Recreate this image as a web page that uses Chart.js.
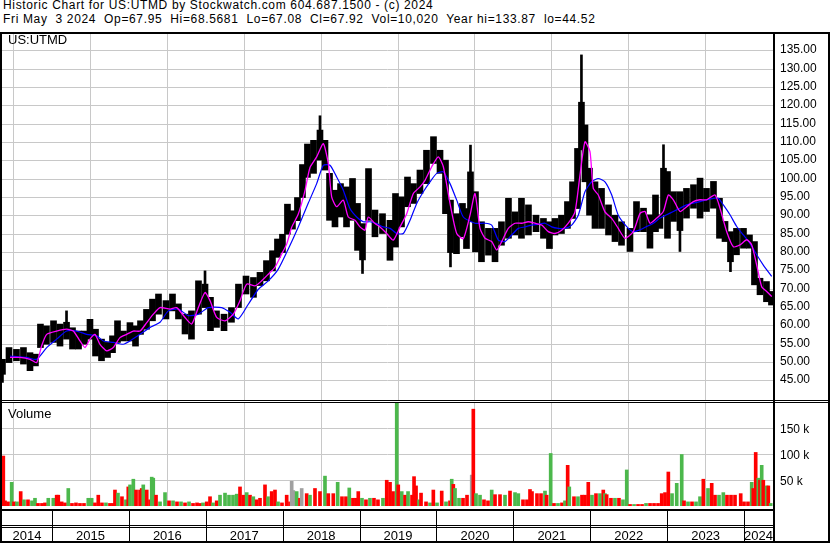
<!DOCTYPE html>
<html lang="en">
<head>
<meta charset="UTF-8">
<title>Historic Chart for US:UTMD</title>
<script src="https://cdn.jsdelivr.net/npm/chart.js"></script>
<style>
  body { margin: 0; background: #fff; font-family: "Liberation Sans", Arial, sans-serif; }
  #wrap { position: relative; width: 830px; height: 543px; overflow: hidden; }
  .hdr { position: absolute; left: 3px; font-size: 12px; letter-spacing: 0.65px; white-space: pre; line-height: 14px; color: #000; }
  .ln { position: absolute; background: #000; z-index: 5; }
  .lbl { position: absolute; left: 8px; font-size: 13px; line-height: 15px; white-space: pre; z-index: 6; }
  canvas { position: absolute; left: 2px; }
</style>
</head>
<body>
<div id="wrap">
  <div class="hdr" style="top:-2px">Historic Chart for US:UTMD by Stockwatch.com 604.687.1500 - (c) 2024</div>
  <div class="hdr" style="top:12px">Fri May  3 2024  Op=67.95  Hi=68.5681  Lo=67.08  Cl=67.92  Vol=10,020  Year hi=133.87  lo=44.52</div>

  <canvas id="price" width="828" height="366" style="top:34px"></canvas>
  <canvas id="volume" width="828" height="140" style="top:403px"></canvas>

  <div class="lbl" style="top:32px">US:UTMD</div>
  <div class="lbl" style="top:406px">Volume</div>

  <!-- frame -->
  <div class="ln" style="left:0;top:32px;width:830px;height:2px"></div>
  <div class="ln" style="left:0;top:32px;width:2px;height:511px"></div>
  <div class="ln" style="left:773px;top:32px;width:2px;height:511px"></div>
  <div class="ln" style="left:828px;top:32px;width:2px;height:511px"></div>
  <div class="ln" style="left:0;top:400px;width:830px;height:1px"></div>
  <div class="ln" style="left:0;top:402px;width:830px;height:1px"></div>
  <div class="ln" style="left:0;top:509px;width:775px;height:2px"></div>
  <div class="ln" style="left:0;top:525px;width:775px;height:1px"></div>
  <div class="ln" style="left:0;top:527px;width:775px;height:1px"></div>
  <div class="ln" style="left:0;top:541px;width:830px;height:2px"></div>
</div>

<script>
// x axis is in decimal years
const xMin = 2014.350, xMax = 2024.376;
const yearTicks = [2015, 2016, 2017, 2018, 2019, 2020, 2021, 2022, 2023, 2024];
const yearLabels = [2014, 2015, 2016, 2017, 2018, 2019, 2020, 2021, 2022, 2023, 2024];
const priceTicks = [45, 50, 55, 60, 65, 70, 75, 80, 85, 90, 95, 100, 105, 110, 115, 120, 125, 130, 135];
const volTicks = [50000, 100000, 150000];

// price range per period (low / high)
const barDates = [2014.356, 2014.441, 2014.538, 2014.629, 2014.714, 2014.785, 2014.850, 2014.928, 2015.020, 2015.104,
  2015.189, 2015.267, 2015.345, 2015.423, 2015.494, 2015.566, 2015.644, 2015.722, 2015.787, 2015.852,
  2015.930, 2016.014, 2016.086, 2016.151, 2016.229, 2016.307, 2016.385, 2016.482, 2016.567, 2016.645,
  2016.730, 2016.814, 2016.905, 2016.990, 2017.061, 2017.139, 2017.237, 2017.334, 2017.425, 2017.523,
  2017.620, 2017.705, 2017.789, 2017.867, 2017.932, 2017.997, 2018.062, 2018.127, 2018.192, 2018.257,
  2018.322, 2018.401, 2018.485, 2018.550, 2018.609, 2018.680, 2018.752, 2018.830, 2018.908, 2018.973,
  2019.038, 2019.116, 2019.200, 2019.298, 2019.395, 2019.467, 2019.545, 2019.623, 2019.701, 2019.785,
  2019.870, 2019.961, 2020.046, 2020.117, 2020.182, 2020.260, 2020.338, 2020.390, 2020.442, 2020.507,
  2020.585, 2020.676, 2020.761, 2020.845, 2020.936, 2021.021, 2021.105, 2021.196, 2021.294, 2021.391,
  2021.469, 2021.541, 2021.625, 2021.703, 2021.769, 2021.834, 2021.885, 2021.931, 2021.990, 2022.061,
  2022.146, 2022.237, 2022.321, 2022.406, 2022.516, 2022.601, 2022.692, 2022.776, 2022.848, 2022.906,
  2022.952, 2023.004, 2023.082, 2023.166, 2023.251, 2023.342, 2023.427, 2023.511, 2023.602, 2023.680,
  2023.752, 2023.823, 2023.901, 2023.992, 2024.070, 2024.135, 2024.207, 2024.291, 2024.356];
const barLow = [46.8, 50.0, 50.5, 49.6, 47.8, 49.1, 54.1, 55.0, 55.5, 54.5,
  56.4, 53.7, 53.7, 55.0, 56.4, 51.8, 50.5, 51.4, 52.7, 55.5,
  55.9, 55.9, 54.5, 57.7, 59.1, 61.4, 63.2, 61.9, 64.1, 61.9,
  57.8, 56.4, 63.2, 65.0, 58.7, 59.6, 58.7, 61.0, 65.0, 68.7,
  67.8, 71.0, 72.3, 75.0, 78.7, 80.0, 85.0, 86.4, 88.7, 95.0,
  100.5, 101.6, 105.2, 102.5, 88.8, 87.0, 89.7, 87.0, 88.8, 80.6,
  78.0, 88.8, 84.3, 85.2, 77.9, 81.5, 87.0, 92.5, 93.4, 96.1,
  98.8, 104.3, 101.6, 90.6, 80.0, 79.7, 84.3, 81.1, 88.4, 80.2,
  77.5, 79.3, 77.5, 82.0, 83.9, 84.8, 83.9, 84.8, 85.7, 83.9,
  81.1, 84.8, 85.2, 86.6, 89.3, 92.0, 108.0, 99.3, 90.2, 86.6,
  86.6, 84.8, 83.0, 82.0, 80.3, 85.7, 85.7, 81.2, 85.7, 86.6,
  90.3, 83.9, 88.5, 86.0, 89.4, 92.1, 89.4, 91.2, 92.1, 83.9,
  83.0, 77.5, 79.4, 81.2, 81.2, 71.2, 68.5, 66.6, 65.7];
const barHigh = [50.9, 54.1, 53.6, 54.1, 52.7, 52.3, 60.5, 60.0, 61.4, 60.5,
  61.0, 59.5, 58.6, 58.6, 61.8, 59.1, 56.4, 55.5, 57.3, 61.4,
  58.6, 60.9, 60.0, 61.4, 64.5, 67.3, 68.7, 66.9, 68.7, 66.0,
  63.2, 64.1, 72.3, 71.4, 67.8, 64.1, 63.2, 65.0, 71.4, 73.6,
  73.2, 74.6, 77.8, 80.5, 83.7, 85.0, 93.2, 91.4, 95.0, 104.0,
  109.6, 110.6, 113.4, 110.6, 101.6, 97.0, 98.8, 97.9, 100.2, 93.4,
  87.9, 102.9, 91.6, 90.6, 88.8, 96.1, 95.2, 100.6, 98.8, 102.5,
  107.9, 111.6, 107.9, 105.2, 94.3, 90.6, 93.4, 92.0, 102.0, 96.6,
  88.4, 86.6, 86.6, 88.4, 94.8, 91.1, 94.8, 93.0, 90.2, 89.3,
  88.4, 89.3, 90.2, 93.9, 99.3, 108.4, 121.0, 114.8, 103.0, 99.3,
  97.5, 93.0, 90.2, 88.4, 86.6, 93.9, 92.1, 90.3, 95.7, 90.3,
  103.0, 102.1, 96.6, 96.6, 97.5, 98.5, 100.3, 97.5, 99.4, 94.8,
  88.5, 85.7, 86.6, 86.6, 84.8, 83.0, 73.0, 72.1, 69.4];

// single-day extremes
const spikeDates = [2014.356, 2015.189, 2016.990, 2018.485, 2019.038, 2020.182, 2020.442, 2021.885, 2022.952, 2023.166, 2023.823];
const spikeLow  = [44.6, 58.0, 66.0, 108.0, 74.3, 76.1, 95.0, 115.0, 95.0, 80.3, 74.8];
const spikeHigh = [50.0, 64.1, 75.0, 117.3, 82.0, 85.0, 109.3, 133.9, 109.4, 90.0, 80.0];

// short moving average (magenta)
const fastDates = [2014.454, 2014.584, 2014.714, 2014.801, 2014.866, 2014.931, 2015.061, 2015.191, 2015.277, 2015.364,
  2015.429, 2015.494, 2015.559, 2015.624, 2015.712, 2015.797, 2015.884, 2015.972, 2016.057, 2016.145,
  2016.232, 2016.318, 2016.405, 2016.535, 2016.622, 2016.730, 2016.817, 2016.903, 2016.990, 2017.055,
  2017.142, 2017.250, 2017.358, 2017.445, 2017.532, 2017.640, 2017.727, 2017.813, 2017.900, 2017.987,
  2018.052, 2018.117, 2018.203, 2018.290, 2018.355, 2018.442, 2018.528, 2018.593, 2018.637, 2018.702,
  2018.788, 2018.853, 2018.940, 2019.005, 2019.070, 2019.113, 2019.201, 2019.266, 2019.353, 2019.438,
  2019.526, 2019.613, 2019.699, 2019.786, 2019.851, 2019.938, 2020.024, 2020.089, 2020.176, 2020.263,
  2020.349, 2020.436, 2020.501, 2020.566, 2020.631, 2020.718, 2020.783, 2020.848, 2020.934, 2021.021,
  2021.108, 2021.194, 2021.281, 2021.368, 2021.454, 2021.541, 2021.628, 2021.714, 2021.801, 2021.866,
  2021.931, 2021.996, 2022.039, 2022.104, 2022.191, 2022.279, 2022.364, 2022.452, 2022.559, 2022.647,
  2022.712, 2022.777, 2022.864, 2022.950, 2023.015, 2023.080, 2023.167, 2023.254, 2023.340, 2023.427,
  2023.514, 2023.622, 2023.687, 2023.774, 2023.860, 2023.947, 2024.034, 2024.099, 2024.164, 2024.229,
  2024.294, 2024.359];
const fastMA = [51.4, 51.4, 50.9, 50.0, 54.6, 57.7, 58.6, 59.1, 58.6, 55.9,
  54.1, 56.4, 57.7, 55.0, 53.2, 54.1, 56.8, 57.7, 58.6, 58.6,
  60.9, 63.2, 65.0, 64.6, 65.0, 62.3, 60.5, 65.0, 69.1, 66.9,
  62.3, 61.4, 63.2, 66.9, 71.4, 70.9, 72.3, 74.1, 76.0, 79.6,
  82.3, 86.9, 90.5, 96.9, 103.2, 106.1, 109.7, 104.3, 95.2, 92.5,
  94.3, 89.7, 88.8, 87.0, 86.1, 89.7, 87.9, 87.0, 85.2, 83.4,
  87.0, 90.6, 96.1, 97.9, 99.7, 103.4, 106.1, 103.4, 93.4, 85.2,
  83.8, 90.2, 96.1, 86.6, 83.9, 83.0, 80.7, 83.0, 86.6, 88.0,
  88.0, 88.4, 88.0, 87.5, 85.7, 85.2, 86.1, 88.0, 91.1, 101.1,
  110.2, 107.5, 97.5, 95.7, 91.1, 89.3, 86.6, 83.9, 85.7, 90.7,
  91.2, 88.0, 89.4, 91.2, 95.7, 94.4, 91.2, 92.5, 93.9, 94.4,
  94.4, 95.7, 92.1, 85.7, 81.6, 82.1, 83.5, 82.1, 76.6, 70.7,
  69.4, 68.0];

// long moving average (blue)
const slowDates = [2014.454, 2014.671, 2014.801, 2014.931, 2015.061, 2015.191, 2015.321, 2015.451, 2015.581, 2015.667,
  2015.797, 2015.927, 2016.015, 2016.145, 2016.275, 2016.405, 2016.513, 2016.643, 2016.773, 2016.903,
  2017.033, 2017.207, 2017.315, 2017.423, 2017.553, 2017.683, 2017.813, 2017.943, 2018.073, 2018.203,
  2018.333, 2018.442, 2018.528, 2018.615, 2018.702, 2018.788, 2018.875, 2018.962, 2019.048, 2019.135,
  2019.223, 2019.308, 2019.396, 2019.483, 2019.569, 2019.656, 2019.743, 2019.829, 2019.916, 2020.003,
  2020.089, 2020.176, 2020.263, 2020.349, 2020.501, 2020.631, 2020.718, 2020.804, 2020.891, 2020.978,
  2021.064, 2021.151, 2021.238, 2021.324, 2021.411, 2021.498, 2021.584, 2021.671, 2021.758, 2021.844,
  2021.931, 2022.018, 2022.104, 2022.191, 2022.279, 2022.364, 2022.474, 2022.559, 2022.647, 2022.734,
  2022.820, 2022.907, 2022.994, 2023.080, 2023.167, 2023.254, 2023.340, 2023.427, 2023.514, 2023.600,
  2023.665, 2023.730, 2023.817, 2023.904, 2023.990, 2024.077, 2024.164, 2024.250, 2024.359];
const slowMA = [51.8, 51.4, 50.9, 54.1, 56.4, 58.6, 58.6, 57.7, 57.3, 55.9,
  55.5, 55.0, 55.9, 57.7, 59.6, 61.0, 64.1, 64.6, 62.8, 63.2,
  65.0, 65.0, 63.7, 61.9, 65.9, 70.0, 72.3, 75.5, 81.0, 87.0,
  93.5, 98.8, 103.8, 103.8, 100.6, 97.0, 92.0, 89.7, 88.4, 88.4,
  87.9, 87.0, 86.6, 85.2, 85.2, 88.8, 93.4, 96.6, 99.3, 101.6,
  102.0, 98.8, 94.3, 89.7, 88.0, 88.0, 87.5, 83.4, 83.0, 84.8,
  86.6, 87.0, 87.5, 87.7, 88.0, 87.0, 86.6, 86.6, 87.5, 90.2,
  96.6, 99.3, 100.2, 99.3, 95.7, 90.2, 87.1, 85.7, 86.2, 87.1,
  88.0, 89.4, 90.3, 91.2, 92.1, 93.0, 93.5, 93.9, 94.4, 94.8,
  94.8, 93.0, 90.3, 87.1, 84.8, 82.5, 79.4, 76.6, 73.5];

// volume in thousands, direction: 1 up (green), -1 down (red), 0 unchanged (grey)
const volDates = [2014.350, 2014.367, 2014.389, 2014.428, 2014.476, 2014.506, 2014.545, 2014.593, 2014.636, 2014.688,
  2014.740, 2014.779, 2014.818, 2014.870, 2014.909, 2014.952, 2015.017, 2015.061, 2015.082, 2015.126,
  2015.169, 2015.212, 2015.260, 2015.312, 2015.364, 2015.416, 2015.472, 2015.516, 2015.559, 2015.602,
  2015.650, 2015.702, 2015.754, 2015.793, 2015.819, 2015.858, 2015.910, 2015.962, 2015.992, 2016.015,
  2016.058, 2016.093, 2016.145, 2016.167, 2016.187, 2016.232, 2016.275, 2016.297, 2016.317, 2016.353,
  2016.405, 2016.470, 2016.522, 2016.574, 2016.626, 2016.678, 2016.730, 2016.782, 2016.834, 2016.886,
  2016.925, 2016.964, 2017.012, 2017.055, 2017.094, 2017.142, 2017.185, 2017.250, 2017.302, 2017.354,
  2017.402, 2017.445, 2017.488, 2017.532, 2017.575, 2017.618, 2017.662, 2017.705, 2017.770, 2017.809,
  2017.857, 2017.900, 2017.939, 2017.991, 2018.052, 2018.095, 2018.117, 2018.138, 2018.182, 2018.225,
  2018.247, 2018.312, 2018.355, 2018.420, 2018.485, 2018.550, 2018.593, 2018.658, 2018.715, 2018.771,
  2018.823, 2018.866, 2018.914, 2018.953, 2018.983, 2019.031, 2019.083, 2019.135, 2019.187, 2019.239,
  2019.304, 2019.353, 2019.396, 2019.435, 2019.483, 2019.503, 2019.548, 2019.591, 2019.630, 2019.682,
  2019.708, 2019.734, 2019.773, 2019.799, 2019.864, 2019.916, 2019.959, 2020.007, 2020.068, 2020.124,
  2020.176, 2020.198, 2020.219, 2020.241, 2020.293, 2020.345, 2020.397, 2020.458, 2020.479, 2020.514,
  2020.566, 2020.618, 2020.670, 2020.718, 2020.761, 2020.826, 2020.891, 2020.956, 2021.021, 2021.064,
  2021.125, 2021.177, 2021.216, 2021.242, 2021.307, 2021.359, 2021.411, 2021.433, 2021.485, 2021.528,
  2021.580, 2021.632, 2021.671, 2021.706, 2021.727, 2021.788, 2021.840, 2021.892, 2021.931, 2021.974,
  2022.022, 2022.074, 2022.126, 2022.169, 2022.191, 2022.213, 2022.269, 2022.321, 2022.373, 2022.425,
  2022.474, 2022.517, 2022.569, 2022.621, 2022.673, 2022.725, 2022.777, 2022.829, 2022.881, 2022.929,
  2022.972, 2023.015, 2023.063, 2023.124, 2023.189, 2023.219, 2023.271, 2023.323, 2023.375, 2023.427,
  2023.470, 2023.531, 2023.579, 2023.622, 2023.674, 2023.730, 2023.778, 2023.830, 2023.882, 2023.956,
  2023.999, 2024.051, 2024.099, 2024.120, 2024.151, 2024.185, 2024.207, 2024.229, 2024.250, 2024.294,
  2024.315, 2024.346];
const volK = [25, 97, 10, 8, 46, 8, 8, 28, 12, 12,
  10, 15, 5, 5, 6, 15, 15, 21, 21, 8,
  6, 34, 5, 6, 5, 5, 15, 15, 6, 21,
  6, 6, 5, 5, 31, 25, 18, 12, 37, 41,
  52, 31, 31, 34, 41, 31, 12, 56, 54, 21,
  8, 26, 10, 10, 8, 8, 6, 8, 5, 6,
  5, 6, 8, 18, 6, 10, 21, 25, 21, 21,
  23, 37, 21, 26, 21, 18, 12, 15, 41, 18,
  28, 31, 8, 6, 21, 8, 48, 30, 28, 15,
  34, 24, 21, 34, 28, 58, 24, 24, 46, 18,
  18, 35, 15, 15, 28, 15, 12, 15, 15, 12,
  15, 50, 46, 28, 205, 41, 28, 21, 28, 21,
  57, 39, 12, 25, 8, 6, 31, 6, 29, 8,
  10, 52, 42, 34, 15, 15, 21, 60, 188, 24,
  21, 12, 10, 31, 22, 22, 21, 29, 26, 24,
  12, 12, 32, 28, 24, 24, 29, 21, 102, 5,
  5, 6, 10, 79, 37, 18, 18, 21, 21, 46,
  21, 24, 24, 31, 24, 22, 15, 15, 15, 12,
  70, 3, 3, 3, 3, 5, 5, 5, 5, 24,
  26, 66, 24, 44, 100, 10, 8, 8, 8, 18,
  52, 34, 44, 21, 21, 26, 21, 21, 21, 24,
  8, 8, 46, 34, 104, 54, 50, 79, 50, 39,
  39, 5];
const volDir = [-1, -1, -1, -1, 1, -1, 1, -1, 1, -1,
  1, 1, -1, -1, -1, 1, 1, -1, -1, -1,
  -1, 1, -1, -1, -1, -1, 1, 1, -1, -1,
  -1, 1, -1, -1, -1, 1, -1, 1, -1, 1,
  1, -1, -1, -1, 1, -1, -1, 1, 1, -1,
  1, 1, -1, 1, -1, 1, -1, 1, -1, -1,
  -1, 1, -1, -1, 1, -1, 1, 1, 1, 1,
  1, -1, -1, 1, -1, 1, -1, -1, -1, 1,
  -1, -1, 1, -1, -1, -1, 0, 0, 1, -1,
  0, -1, 1, -1, -1, 1, -1, -1, 1, -1,
  -1, 1, -1, -1, -1, 1, -1, 1, -1, -1,
  1, -1, -1, -1, 1, -1, 1, -1, 1, -1,
  -1, -1, 1, -1, -1, 1, -1, 1, -1, 1,
  -1, 1, -1, 1, 1, -1, -1, 0, -1, 1,
  1, -1, -1, 1, -1, -1, 1, -1, 1, 1,
  -1, -1, -1, -1, -1, -1, 1, -1, 1, -1,
  1, -1, 1, -1, 1, -1, 1, -1, -1, -1,
  1, -1, 1, -1, 1, -1, -1, 1, -1, 1,
  1, -1, 1, -1, -1, 1, -1, -1, -1, -1,
  -1, -1, 1, 1, 1, -1, 1, -1, 1, 1,
  -1, 1, -1, -1, 1, 1, -1, -1, -1, -1,
  -1, -1, 1, -1, -1, 1, -1, 1, -1, 1,
  -1, 1];

const FONT = '"Liberation Sans", Arial, sans-serif';
const GRID = '#c8c8c8';

const pts = (xs, ys) => xs.map((x, i) => ({ x: x, y: ys[i] }));
const ranges = (xs, lo, hi) => xs.map((x, i) => ({ x: x, y: [lo[i], hi[i]] }));

function xAxis() {
  return {
    type: 'linear', min: xMin, max: xMax, offset: false,
    afterBuildTicks: s => { s.ticks = yearTicks.map(v => ({ value: v })); },
    afterFit: s => { s.height = 0; s.paddingLeft = 0; s.paddingRight = 0; },
    ticks: { display: false },
    grid: { color: GRID, drawTicks: false },
    border: { display: false }
  };
}

new Chart(document.getElementById('price'), {
  type: 'bar',
  data: {
    datasets: [
      { type: 'line', data: pts(fastDates, fastMA), borderColor: '#ff00ff', borderWidth: 1.3, pointRadius: 0, tension: 0.2, order: 1 },
      { type: 'line', data: pts(slowDates, slowMA), borderColor: '#0000ff', borderWidth: 1.2, pointRadius: 0, tension: 0.2, order: 2 },
      { data: ranges(spikeDates, spikeLow, spikeHigh), backgroundColor: '#000', barThickness: 2, grouped: false, order: 3 },
      { data: ranges(barDates, barLow, barHigh), backgroundColor: '#000', barThickness: 6, grouped: false, order: 4 }
    ]
  },
  options: {
    responsive: false, animation: false,
    layout: { padding: 0 },
    plugins: { legend: { display: false }, tooltip: { enabled: false } },
    scales: {
      x: xAxis(),
      y: {
        position: 'right', min: 39.8, max: 139.6,
        afterBuildTicks: s => { s.ticks = priceTicks.map(v => ({ value: v })); },
        afterFit: s => { s.width = 57; s.paddingTop = 0; s.paddingBottom = 0; },
        ticks: { callback: v => v.toFixed(2), color: '#000', font: { family: FONT, size: 12 }, padding: 7, labelOffset: -1 },
        grid: { color: GRID, drawTicks: false },
        border: { display: false }
      }
    }
  }
});

const yearRows = {
  id: 'yearRows',
  afterDraw(chart) {
    const { ctx, chartArea, scales: { x } } = chart;
    const top = chartArea.bottom + 3;
    ctx.save();
    ctx.fillStyle = '#000';
    yearTicks.forEach(v => {
      const px = Math.round(x.getPixelForValue(v));
      ctx.fillRect(px, top, 1, chart.height - top);
    });
    ctx.font = '13px ' + FONT;
    ctx.textAlign = 'center';
    ctx.textBaseline = 'alphabetic';
    yearLabels.forEach(v => {
      const a = x.getPixelForValue(Math.max(v, xMin));
      const b = x.getPixelForValue(Math.min(v + 1, xMax));
      ctx.fillText(String(v), (a + b) / 2, 137);
    });
    ctx.restore();
  }
};

const volColor = d => d > 0 ? '#4cb84c' : (d < 0 ? '#ff0000' : '#a0a0a0');

new Chart(document.getElementById('volume'), {
  type: 'bar',
  data: {
    datasets: [{
      data: pts(volDates, volK.map(v => v * 1000)),
      backgroundColor: volDir.map(volColor),
      barThickness: 3, grouped: false
    }]
  },
  options: {
    responsive: false, animation: false,
    layout: { padding: { bottom: 37 } },
    plugins: { legend: { display: false }, tooltip: { enabled: false } },
    scales: {
      x: xAxis(),
      y: {
        position: 'right', min: 0, max: 200000,
        afterBuildTicks: s => { s.ticks = volTicks.map(v => ({ value: v })); },
        afterFit: s => { s.width = 57; s.paddingTop = 0; s.paddingBottom = 0; },
        ticks: { callback: v => (v / 1000) + ' k', color: '#000', font: { family: FONT, size: 12 }, padding: 7, labelOffset: 1 },
        grid: { color: GRID, drawTicks: false },
        border: { display: false }
      }
    }
  },
  plugins: [yearRows]
});
</script>
</body>
</html>
